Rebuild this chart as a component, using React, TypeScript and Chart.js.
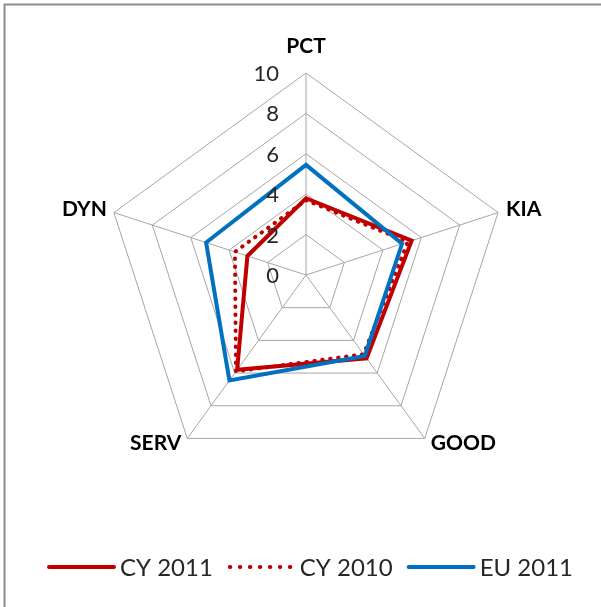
import { useEffect, useRef } from "react";
import { Chart, registerables } from "chart.js";

Chart.register(...registerables);

const categories = ["PCT", "KIA", "GOOD", "SERV", "DYN"];
const cy2011 = [3.8, 5.5, 5.1, 5.8, 3.05];
const cy2010 = [3.7, 5.3, 4.85, 5.9, 3.7];
const eu2011 = [5.45, 5.0, 4.95, 6.45, 5.2];
const tickValues = [0, 2, 4, 6, 8, 10];
const seriesNames = ["CY 2011", "CY 2010", "EU 2011"];
const seriesColors = ["#c00000", "#c00000", "#0070c0"];
const seriesDashed = [false, true, false];

const FONT = "Lato, 'Open Sans', sans-serif";

const decorPlugin = {
  id: "decor",
  beforeDraw(chart: any) {
    const ctx = chart.ctx;
    ctx.save();
    ctx.strokeStyle = "#8c8c8c";
    ctx.lineWidth = 2;
    ctx.beginPath();
    ctx.moveTo(4.5, chart.height);
    ctx.lineTo(4.5, 4.5);
    ctx.lineTo(chart.width, 4.5);
    ctx.stroke();
    ctx.restore();
  },
  afterDraw(chart: any) {
    const ctx = chart.ctx;
    const scale = chart.scales.r;
    const cx = scale.xCenter;
    const cy = scale.yCenter;
    ctx.save();
    // tick labels
    ctx.fillStyle = "#262626";
    ctx.font = `22px ${FONT}`;
    ctx.textAlign = "right";
    ctx.textBaseline = "middle";
    tickValues.forEach((v) => {
      const d = scale.getDistanceFromCenterForValue(v);
      ctx.fillText(String(v), cx - 27, cy - d + 1);
    });
    // point labels
    ctx.font = `bold 21px ${FONT}`;
    ctx.fillStyle = "#000000";
    categories.forEach((label, i) => {
      const p = scale.getPointPosition(i, scale.drawingArea);
      const dx = p.x - cx;
      const dy = p.y - cy;
      if (Math.abs(dx) < 1) {
        ctx.textAlign = "center";
        ctx.textBaseline = "middle";
        ctx.fillText(label, p.x, p.y - 27);
      } else if (dy < 0) {
        ctx.textAlign = dx > 0 ? "left" : "right";
        ctx.textBaseline = "middle";
        ctx.fillText(label, p.x + (dx > 0 ? 8 : -7), p.y - 3);
      } else {
        ctx.textAlign = dx > 0 ? "left" : "right";
        ctx.textBaseline = "middle";
        ctx.fillText(label, p.x + (dx > 0 ? 6 : -6), p.y + 5);
      }
    });
    // legend
    ctx.font = `24px ${FONT}`;
    const lineLen = 69;
    const gapText = 4;
    const gapItem = 14;
    const widths = seriesNames.map((n) => ctx.measureText(n).width);
    const total =
      widths.reduce((a, w) => a + lineLen + gapText + w, 0) + gapItem * (seriesNames.length - 1);
    let x = 310 - total / 2;
    const ly = 567;
    seriesNames.forEach((n, i) => {
      ctx.save();
      ctx.strokeStyle = seriesColors[i];
      ctx.lineWidth = 4;
      if (seriesDashed[i]) {
        ctx.lineCap = "round";
        ctx.setLineDash([0.5, 9.5]);
        ctx.beginPath();
        ctx.moveTo(x + 3, ly);
        ctx.lineTo(x + lineLen - 3, ly);
        ctx.stroke();
      } else {
        ctx.lineCap = "round";
        ctx.beginPath();
        ctx.moveTo(x + 2, ly);
        ctx.lineTo(x + lineLen - 2, ly);
        ctx.stroke();
      }
      ctx.restore();
      ctx.fillStyle = "#262626";
      ctx.textAlign = "left";
      ctx.textBaseline = "middle";
      ctx.fillText(n, x + lineLen + gapText, ly + 1);
      x += lineLen + gapText + widths[i] + gapItem;
    });
    ctx.restore();
  },
};

export default function App() {
  const canvasRef = useRef<HTMLCanvasElement | null>(null);

  useEffect(() => {
    document.body.style.margin = "0";
    const canvas = canvasRef.current;
    if (!canvas) return;
    const seriesData = [cy2011, cy2010, eu2011];
    const chart = new Chart(canvas, {
      type: "radar",
      data: {
        labels: categories,
        datasets: seriesNames.map((name, i) => ({
          label: name,
          data: seriesData[i],
          borderColor: seriesColors[i],
          backgroundColor: "transparent",
          borderWidth: 4,
          borderDash: seriesDashed[i] ? [0.5, 7.5] : [],
          borderCapStyle: seriesDashed[i] ? "round" : "butt",
          borderJoinStyle: "miter",
          pointRadius: 0,
          pointHoverRadius: 0,
          fill: false,
          tension: 0,
          order: 2 - i,
        })),
      },
      options: {
        animation: false,
        responsive: true,
        maintainAspectRatio: false,
        layout: { padding: { left: 104, right: 93, top: 73, bottom: 130 } },
        plugins: {
          legend: { display: false },
          tooltip: { enabled: false },
          title: { display: false },
        },
        scales: {
          r: {
            min: 0,
            max: 10,
            ticks: { stepSize: 2, display: false },
            grid: { color: "#a6a6a6", lineWidth: 1, circular: false },
            angleLines: { color: "#a6a6a6", lineWidth: 1 },
            pointLabels: { display: false },
          },
        },
      },
      plugins: [decorPlugin],
    } as any);
    return () => chart.destroy();
  }, []);

  return (
    <div style={{ position: "fixed", left: 0, top: 0, width: 601, height: 607, background: "#ffffff" }}>
      <canvas ref={canvasRef} />
    </div>
  );
}
